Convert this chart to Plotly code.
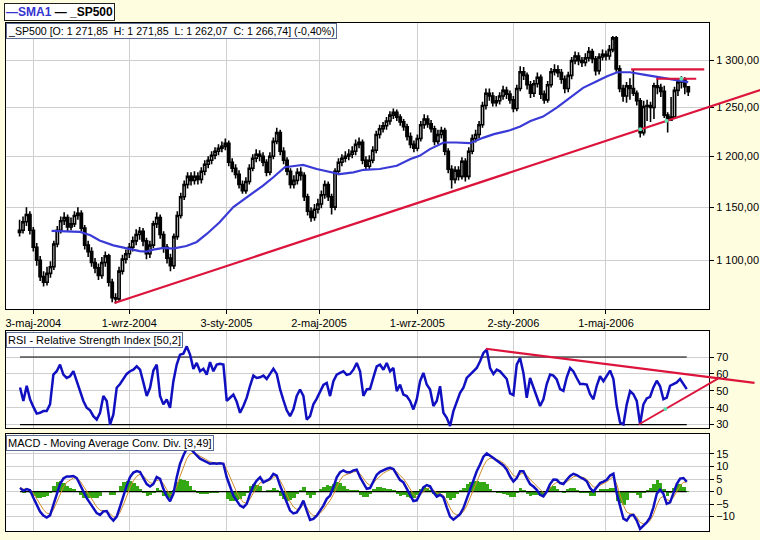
import math
import plotly.graph_objects as go

# ---------------- data ----------------
# price candles: one candle every 3 trading days, day 0 = 3-maj-2004
first_day = -12
day_step = 3
first_open = 1126.0
closes = [1128, 1136, 1143, 1128, 1112, 1100, 1085, 1080, 1088, 1094,
          1115, 1128, 1137, 1140, 1131, 1134, 1142, 1144, 1130, 1114,
          1108, 1098, 1093, 1086, 1098, 1104, 1080, 1066, 1065, 1090,
          1101, 1106, 1112, 1118, 1124, 1127, 1118, 1106, 1114, 1134,
          1140, 1124, 1112, 1102, 1095, 1122, 1142, 1160, 1172, 1180,
          1176, 1180, 1177, 1185, 1192, 1196, 1201, 1205, 1208, 1210,
          1213, 1194, 1188, 1182, 1172, 1166, 1175, 1188, 1198, 1202,
          1200, 1194, 1184, 1200, 1215, 1224, 1205, 1196, 1185, 1172,
          1176, 1184, 1181, 1160, 1146, 1140, 1148, 1153, 1162, 1172,
          1160, 1150, 1185, 1194, 1198, 1200, 1202, 1205, 1212, 1214,
          1196, 1190, 1196, 1206, 1222, 1228, 1231, 1236, 1242, 1245,
          1240, 1235, 1230, 1220, 1212, 1208, 1218, 1232, 1238, 1233,
          1228, 1215, 1222, 1226, 1205, 1187, 1177, 1186, 1180, 1195,
          1180, 1205, 1218, 1222, 1232, 1252, 1265, 1262, 1255, 1257,
          1262, 1268, 1264, 1258, 1249, 1270, 1288, 1284, 1274, 1265,
          1275, 1282, 1264, 1258, 1274, 1288, 1290, 1287, 1280, 1270,
          1284, 1300, 1305, 1300, 1298, 1303, 1310, 1302, 1289, 1304,
          1307, 1305, 1312, 1325, 1291, 1270, 1262, 1273, 1270, 1265,
          1257, 1224, 1251, 1252, 1250, 1273, 1271, 1267, 1242, 1237,
          1240, 1268, 1277, 1280, 1271.85, 1266.74]
highs = [1138, 1141, 1150, 1146, 1131, 1116, 1104, 1090, 1094, 1099,
         1118, 1132, 1141, 1145, 1143, 1140, 1146, 1150, 1147, 1133,
         1118, 1112, 1102, 1097, 1103, 1108, 1106, 1083, 1070, 1094,
         1105, 1110, 1116, 1122, 1129, 1131, 1130, 1121, 1118, 1137,
         1145, 1143, 1127, 1115, 1106, 1125, 1146, 1164, 1176, 1184,
         1184, 1185, 1184, 1189, 1196, 1200, 1205, 1209, 1212, 1215,
         1218, 1216, 1198, 1192, 1186, 1176, 1179, 1192, 1202, 1207,
         1206, 1204, 1197, 1204, 1219, 1229, 1227, 1209, 1199, 1188,
         1181, 1188, 1189, 1184, 1163, 1150, 1153, 1158, 1166, 1176,
         1175, 1163, 1188, 1198, 1202, 1205, 1207, 1210, 1217, 1219,
         1217, 1200, 1201, 1210, 1226, 1232, 1235, 1240, 1246, 1249,
         1248, 1243, 1238, 1233, 1224, 1216, 1222, 1236, 1243, 1242,
         1237, 1231, 1227, 1230, 1229, 1208, 1191, 1190, 1190, 1199,
         1198, 1209, 1222, 1227, 1236, 1256, 1270, 1270, 1266, 1262,
         1266, 1273, 1272, 1268, 1262, 1274, 1294, 1293, 1287, 1278,
         1279, 1287, 1285, 1268, 1278, 1292, 1296, 1295, 1291, 1284,
         1288, 1304, 1310, 1309, 1304, 1308, 1315, 1313, 1305, 1308,
         1312, 1311, 1317, 1327, 1327, 1295, 1274, 1277, 1281, 1291,
         1268, 1260, 1257, 1258, 1256, 1276, 1281, 1275, 1273, 1245,
         1261, 1272, 1280, 1283, 1282, 1271.85]
lows = [1122, 1125, 1132, 1124, 1108, 1095, 1081, 1076, 1077, 1084,
        1091, 1112, 1125, 1133, 1127, 1128, 1131, 1138, 1127, 1110,
        1103, 1094, 1088, 1082, 1083, 1094, 1076, 1062, 1061, 1063,
        1087, 1097, 1102, 1108, 1114, 1119, 1113, 1101, 1102, 1111,
        1130, 1120, 1107, 1097, 1090, 1092, 1119, 1139, 1157, 1168,
        1171, 1172, 1172, 1173, 1181, 1188, 1192, 1197, 1201, 1204,
        1206, 1190, 1184, 1178, 1168, 1163, 1163, 1172, 1185, 1194,
        1195, 1190, 1180, 1181, 1197, 1212, 1201, 1192, 1181, 1168,
        1168, 1172, 1176, 1156, 1142, 1136, 1137, 1144, 1149, 1158,
        1156, 1143, 1147, 1181, 1190, 1194, 1196, 1198, 1201, 1208,
        1192, 1186, 1187, 1193, 1203, 1218, 1224, 1227, 1232, 1238,
        1236, 1231, 1226, 1216, 1208, 1204, 1205, 1215, 1228, 1229,
        1224, 1211, 1212, 1218, 1201, 1183, 1168, 1173, 1176, 1177,
        1175, 1177, 1202, 1214, 1218, 1229, 1248, 1257, 1251, 1251,
        1253, 1258, 1259, 1254, 1245, 1246, 1267, 1279, 1269, 1260,
        1261, 1271, 1259, 1254, 1255, 1271, 1284, 1282, 1275, 1265,
        1266, 1280, 1296, 1295, 1293, 1294, 1299, 1297, 1284, 1285,
        1300, 1300, 1301, 1309, 1288, 1266, 1256, 1255, 1258, 1262,
        1252, 1219, 1221, 1236, 1235, 1238, 1264, 1261, 1239, 1224,
        1236, 1238, 1262, 1270, 1264, 1262.07]

# SMA1 readings (trading day, value)
sma_days = [16, 41, 50, 58, 70, 82, 93, 99, 105, 114, 122, 134, 143, 152, 163,
            175, 181, 190, 201, 210, 220, 230, 236, 248, 260, 268, 280, 289,
            303, 318, 330, 338, 347, 359, 370, 382, 394, 403, 417, 426, 435,
            446, 458, 470, 481, 493, 502, 511, 522, 534, 545, 560, 573]
sma_values = [1127.4, 1126.4, 1123.2, 1118.4, 1113.8, 1110.7, 1108.5, 1108.0,
              1109.8, 1111.4, 1110.7, 1113.2, 1117.0, 1124.7, 1135.6, 1150.0,
              1154.8, 1161.2, 1170.9, 1179.1, 1189.0, 1190.5, 1191.3, 1187.3,
              1184.0, 1182.3, 1184.0, 1186.5, 1187.3, 1190.5, 1197.2, 1200.4,
              1207.2, 1213.9, 1213.9, 1213.2, 1218.9, 1222.4, 1226.4, 1230.2,
              1235.9, 1240.5, 1249.8, 1260.2, 1270.7, 1277.8, 1283.1, 1287.4,
              1287.4, 1284.9, 1282.5, 1279.6, 1276.8]

# indicator samples, evenly spaced between these trading days
ind_first_day = -11.6
ind_last_day = 571.7
rsi_values = [52, 44, 53, 45, 40.5, 36.5, 37, 38, 38, 42,
              59.6, 61.6, 65.5, 59.6, 57.6, 58.6, 61.6, 56, 50, 44,
              40, 38.5, 35, 33, 37, 47, 44, 30, 36, 51.8,
              54, 57, 60, 61.6, 62.5, 64.5, 62.5, 55, 46.9, 51.8,
              62, 65.5, 46.9, 42, 44.9, 40, 55.7, 65.5, 71.4, 72,
              76.3, 71.4, 63, 66.5, 61.6, 63, 59.6, 67, 61.6, 65.5,
              66, 65.5, 44, 45.9, 47.8, 43.5, 37, 41, 46, 53,
              59, 57.6, 58, 59, 57, 60, 63, 60, 51, 44.5,
              38.5, 35, 39, 47, 50.8, 47, 33, 35, 42, 45.4,
              49, 53.5, 54.7, 46.9, 55.7, 59.6, 60.6, 61.6, 59.5, 60,
              62.5, 66.5, 61.6, 47, 50.8, 51.2, 58, 64.5, 65.5, 62.5,
              66.5, 61.6, 63.5, 49.8, 53.7, 47.8, 46.9, 44, 39, 44.9,
              55.7, 60.6, 53.7, 50.8, 41, 44, 52.7, 37, 34, 29.2,
              38, 43, 48.8, 51.8, 57.6, 59.6, 61.6, 63.5, 67.5, 72.4,
              74.3, 63.5, 60, 62.5, 61.5, 59, 57, 48.5, 47.5, 65.5,
              69.4, 60.6, 45.9, 57.6, 51.8, 45.9, 41, 45, 54, 59.6,
              59, 56.7, 51, 50, 58, 63.5, 61.5, 57.6, 54, 54,
              53.7, 48, 45, 53, 58.6, 55.7, 58.6, 62, 57, 41,
              31.2, 30.2, 42, 49.8, 48, 44, 30.2, 42, 45.5, 46.5,
              52, 56, 52.7, 45, 46, 53, 54, 55, 57, 54,
              51]
macd_values = [1.5, 0.3, 1.0, 0.5, -2.5, -5.5, -8, -9.6, -10.4, -9.5,
               -5.2, -0.6, 3, 5.2, 6, 6, 6.2, 5.4, 2.8, -0.3,
               -2.6, -4.6, -6.6, -8.6, -9.3, -7.9, -7.8, -10.2, -11.6, -10,
               -6, -1.6, 2.4, 5.8, 7.6, 8.2, 7.8, 5.4, 3, 2,
               3, 5.8, 5.1, 1.1, -1.9, -3.9, -0.9, 5.7, 11.1, 14.4,
               17.1, 17.3, 15.7, 14.4, 13.1, 12.4, 11.7, 11.1, 11.3, 11.1,
               11.3, 11.1, 5.7, 1.7, -1.6, -3.6, -5.6, -6.3, -4.9, -0.9,
               2.4, 4.4, 5.7, 3.7, 4.4, 5.1, 7.1, 6.4, 2.4, -0.9,
               -4.9, -7.6, -8.7, -8.3, -6.3, -3.6, -7.6, -11.3, -10.9, -9.6,
               -7.6, -5.6, -2.9, -1.6, 1.7, 5.7, 7.7, 8.4, 7.7, 7.7,
               8.4, 8.7, 5.7, 3.1, 1.1, 1.4, 4.4, 6.7, 7.9, 8.6,
               9.1, 9.5, 9, 6.8, 4.6, 3.7, 1, -1.6, -3.8, -3.5,
               -0.6, 1.7, 2.6, 2.1, -0.3, -2, -1.3, -2.3, -6.3, -10,
               -11.2, -10.2, -9, -6.6, -2.9, 1.1, 5.1, 8.1, 10.8, 13.9,
               15.2, 14.4, 13.4, 12.4, 11.4, 10.4, 8.7, 6, 4, 5.4,
               8.1, 8.1, 5.4, 3, 2, 0.7, -1.3, -1.9, 0, 3,
               4.8, 4.7, 3.4, 3, 4.7, 6.2, 7.1, 6.6, 5.7, 5.1,
               4.1, 1.4, 0, 1.8, 3.4, 4, 4.7, 6.4, 7.1, -0.8,
               -5.9, -10.8, -11.6, -9.6, -9.3, -11.6, -14.9, -13.6, -12.3, -10.3,
               -6.3, -0.9, 0.7, -0.9, -4.9, -4.3, -0.9, 3, 5.2, 5.4,
               3.9]
signal_values = [1.5, 1.0, 1.0, 0.8, -0.7, -2.9, -5.2, -7.2, -8.6, -9.0,
                 -7.3, -4.3, -1.0, 1.8, 3.7, 4.7, 5.4, 5.4, 4.2, 2.2,
                 0.0, -2.1, -4.1, -6.1, -7.5, -7.7, -7.7, -8.8, -10.1, -10.1,
                 -8.3, -5.3, -1.8, 1.6, 4.3, 6.1, 6.9, 6.2, 4.8, 3.5,
                 3.3, 4.4, 4.7, 3.1, 0.8, -1.3, -1.1, 2.0, 6.1, 9.8,
                 13.1, 15.0, 15.3, 14.9, 14.1, 13.3, 12.6, 11.9, 11.6, 11.4,
                 11.4, 11.3, 8.8, 5.6, 2.4, -0.3, -2.7, -4.3, -4.6, -2.9,
                 -0.5, 1.7, 3.5, 3.6, 4.0, 4.5, 5.7, 6.0, 4.4, 2.0,
                 -1.1, -4.0, -6.1, -7.1, -6.7, -5.3, -6.3, -8.5, -9.6, -9.6,
                 -8.7, -7.3, -5.3, -3.6, -1.2, 1.9, 4.5, 6.3, 6.9, 7.3,
                 7.8, 8.2, 7.1, 5.3, 3.4, 2.5, 3.4, 4.9, 6.2, 7.3,
                 8.1, 8.7, 8.8, 7.9, 6.4, 5.2, 3.3, 1.1, -1.1, -2.2,
                 -1.5, -0.1, 1.1, 1.6, 0.7, -0.5, -0.9, -1.5, -3.7, -6.5,
                 -8.6, -9.3, -9.2, -8.0, -5.7, -2.6, 0.9, 4.1, 7.1, 10.2,
                 12.4, 13.3, 13.3, 12.9, 12.2, 11.4, 10.2, 8.3, 6.4, 5.9,
                 6.9, 7.4, 6.5, 4.9, 3.6, 2.3, 0.7, -0.5, -0.3, 1.2,
                 2.8, 3.7, 3.6, 3.3, 3.9, 4.9, 5.9, 6.2, 6.0, 5.6,
                 4.9, 3.3, 1.8, 1.8, 2.5, 3.2, 3.9, 5.0, 5.9, 2.9,
                 -1.1, -5.5, -8.2, -8.8, -9.0, -10.2, -12.3, -12.9, -12.6, -11.6,
                 -9.2, -5.5, -2.7, -1.9, -3.2, -3.7, -2.4, 0.0, 2.3, 3.7,
                 3.8]
hist_values = [0, -0.7, 0, -0.3, -1.8, -2.6, -2.8, -2.4, -1.8, -0.5,
               2.1, 3.7, 4.0, 3.4, 2.3, 1.3, 0.8, 0, -1.4, -2.5,
               -2.6, -2.5, -2.5, -2.5, -1.8, -0.2, -0.1, -1.4, -1.5, 0.1,
               2.3, 3.7, 4.2, 4.2, 3.3, 2.1, 0.9, -0.8, -1.8, -1.5,
               -0.3, 1.4, 0.4, -2.0, -2.7, -2.6, 0.2, 3.7, 5.0, 4.6,
               4.0, 2.3, 0.4, -0.5, -1.0, -0.9, -0.9, -0.8, -0.3, -0.3,
               -0.1, -0.2, -3.1, -3.9, -4.0, -3.3, -2.9, -2.0, -0.3, 2.0,
               2.9, 2.7, 2.2, 0.1, 0.4, 0.6, 1.4, 0.4, -2.0, -2.9,
               -3.8, -3.6, -2.6, -1.2, 0.4, 1.7, -1.3, -2.8, -1.3, 0,
               1.1, 1.7, 2.4, 2.0, 2.9, 3.8, 3.2, 2.1, 0.8, 0.4,
               0.6, 0.5, -1.4, -2.2, -2.3, -1.1, 1.0, 1.8, 1.7, 1.3,
               1.0, 0.8, 0.2, -1.1, -1.8, -1.5, -2.3, -2.7, -2.7, -1.3,
               0.9, 1.8, 1.5, 0.5, -1.0, -1.5, -0.4, -0.8, -2.6, -3.5,
               -2.6, -0.9, 0.2, 1.4, 2.8, 3.7, 4.2, 4.0, 3.7, 3.7,
               2.8, 1.1, 0.1, -0.5, -0.8, -1.0, -1.5, -2.3, -2.4, -0.5,
               1.2, 0.7, -1.1, -1.9, -1.6, -1.6, -2.0, -1.4, 0.3, 1.8,
               2.0, 1.0, -0.2, -0.3, 0.8, 1.3, 1.2, 0.4, -0.3, -0.5,
               -0.8, -1.9, -1.8, 0, 0.9, 0.8, 0.8, 1.4, 1.2, -3.7,
               -4.8, -5.3, -3.4, -0.8, -0.3, -1.4, -2.6, -0.7, 0.3, 1.3,
               2.9, 4.6, 3.4, 1.0, -1.7, -0.6, 1.5, 3.0, 2.9, 1.7,
               0.1]

# axis ticks
tick_days = [0, 84, 169, 250, 336, 420, 501]
tick_labels = ["3-maj-2004", "1-wrz-2004", "3-sty-2005", "2-maj-2005",
               "1-wrz-2005", "2-sty-2006", "1-maj-2006"]
price_ticks = [1100, 1150, 1200, 1250, 1300]
price_tick_labels = ["1 100,00", "1 150,00", "1 200,00", "1 250,00", "1 300,00"]
rsi_ticks = [30, 40, 50, 60, 70]
macd_ticks = [-10, -5, 0, 5, 10, 15]

# drawn trend lines (trading day, value)
trend_days = [71, 636]
trend_values = [1061.3, 1268.5]
res1_days = [523, 587]
res1_value = 1290.5
res2_days = [545, 580]
res2_value = 1280.4
touch_days = [531, 554, 567]
touch_values = [1227.5, 1236.3, 1280.5]
rsi_down_days = [396, 631]
rsi_down_values = [74.9, 54.7]
rsi_up_days = [530, 599]
rsi_up_values = [30.2, 57.2]
rsi_touch_days = [553]
rsi_touch_values = [39.3]
rsi_levels = [30, 70]

# ---------------- layout geometry ----------------
W, H = 760, 540
ORIGIN_PX = 33.3
PX_PER_DAY = 1.143
PLOT_L, PLOT_R, EXT_R = 5.5, 709.0, 760.0
MAIN_T, MAIN_B = 23.0, 311.0
RSI_T, RSI_B = 333.0, 430.0
MACD_T, MACD_B = 436.7, 534.0
price_range = [1055.8, 1341.7]
rsi_range = [28.24, 85.3]
macd_range = [-15.75, 22.86]

def fx(px):
    return px / W

def fy(py):
    return 1 - py / H

def day_at(px):
    return (px - ORIGIN_PX) / PX_PER_DAY

x_range = [day_at(PLOT_L), day_at(PLOT_R)]
x_range_ext = [day_at(PLOT_L), day_at(EXT_R)]
log_range = [math.log10(price_range[0]), math.log10(price_range[1])]

days = [first_day + day_step * i for i in range(len(closes))]
opens = [first_open] + closes[:-1]
n_ind = len(rsi_values)
ind_days = [ind_first_day + (ind_last_day - ind_first_day) * i / (n_ind - 1) for i in range(n_ind)]

BG = "#FFFDE0"
RED = "#DC143C"
TOUCH = "#5FE3B5"
FONT = "Liberation Sans, Arial, sans-serif"
GRID = "#CFCFCF"

fig = go.Figure()

fig.add_trace(go.Candlestick(
    x=days, open=opens, high=highs, low=lows, close=closes,
    xaxis="x", yaxis="y", whiskerwidth=0,
    increasing=dict(line=dict(color="black", width=1.6), fillcolor="white"),
    decreasing=dict(line=dict(color="black", width=1.6), fillcolor="black"),
    hoverinfo="skip"))
fig.add_trace(go.Scatter(x=sma_days, y=sma_values, mode="lines", xaxis="x", yaxis="y",
                         line=dict(color="#3A3AD6", width=2.2)))
fig.add_trace(go.Scatter(x=res1_days, y=[res1_value, res1_value], mode="lines",
                         xaxis="x", yaxis="y", line=dict(color=RED, width=2.2)))
fig.add_trace(go.Scatter(x=res2_days, y=[res2_value, res2_value], mode="lines",
                         xaxis="x", yaxis="y", line=dict(color=RED, width=2.2)))
fig.add_trace(go.Scatter(x=trend_days, y=trend_values, mode="lines",
                         xaxis="x4", yaxis="y4", line=dict(color=RED, width=2.2)))
fig.add_trace(go.Scatter(x=touch_days, y=touch_values, mode="markers",
                         xaxis="x4", yaxis="y4", marker=dict(color=TOUCH, size=4)))

# RSI
for lvl in rsi_levels:
    fig.add_trace(go.Scatter(x=[ind_days[0], ind_days[-1]], y=[lvl, lvl], mode="lines",
                             xaxis="x2", yaxis="y2", line=dict(color="black", width=1.2)))
fig.add_trace(go.Scatter(x=ind_days, y=rsi_values, mode="lines", xaxis="x2", yaxis="y2",
                         line=dict(color="#1010C0", width=2.5)))
fig.add_trace(go.Scatter(x=rsi_down_days, y=rsi_down_values, mode="lines",
                         xaxis="x5", yaxis="y5", line=dict(color=RED, width=2.2)))
fig.add_trace(go.Scatter(x=rsi_up_days, y=rsi_up_values, mode="lines",
                         xaxis="x5", yaxis="y5", line=dict(color=RED, width=1.8)))
fig.add_trace(go.Scatter(x=rsi_touch_days, y=rsi_touch_values, mode="markers",
                         xaxis="x5", yaxis="y5", marker=dict(color=TOUCH, size=4)))

# MACD
fig.add_trace(go.Bar(x=ind_days, y=hist_values, xaxis="x3", yaxis="y3",
                     width=ind_days[1] - ind_days[0],
                     marker=dict(color="#33A814", line=dict(width=0))))
fig.add_trace(go.Scatter(x=[ind_days[0], ind_days[-1]], y=[0, 0], mode="lines",
                         xaxis="x3", yaxis="y3", line=dict(color="black", width=1.2)))
fig.add_trace(go.Scatter(x=ind_days, y=signal_values, mode="lines", xaxis="x3", yaxis="y3",
                         line=dict(color="#D08C28", width=1)))
fig.add_trace(go.Scatter(x=ind_days, y=macd_values, mode="lines", xaxis="x3", yaxis="y3",
                         line=dict(color="#1010C0", width=2.5)))

axis_common = dict(showline=True, mirror=True, linecolor="black", linewidth=1,
                   showgrid=True, gridcolor=GRID, gridwidth=1, zeroline=False,
                   tickfont=dict(family=FONT, size=11, color="black"))
xdom = [fx(PLOT_L), fx(PLOT_R)]
xdom_ext = [fx(PLOT_L), 1.0]

fig.update_layout(
    width=W, height=H, autosize=False,
    margin=dict(l=0, r=0, t=0, b=0, pad=0),
    paper_bgcolor=BG, plot_bgcolor="rgba(0,0,0,0)",
    showlegend=False, bargap=0, boxgap=0.05,
    font=dict(family=FONT, size=11, color="black"),
    xaxis=dict(domain=xdom, range=x_range, anchor="y", tickmode="array",
               tickvals=tick_days, ticktext=tick_labels, ticks="outside",
               ticklen=4, tickcolor="black", rangeslider=dict(visible=False),
               **axis_common),
    yaxis=dict(domain=[fy(MAIN_B), fy(MAIN_T)], type="log", range=log_range,
               anchor="x", side="right", tickmode="array", tickvals=price_ticks,
               ticktext=price_tick_labels, ticks="outside", ticklen=4,
               tickcolor="black", **axis_common),
    xaxis2=dict(domain=xdom, range=x_range, anchor="y2", tickmode="array",
                tickvals=tick_days, showticklabels=False, ticks="", **axis_common),
    yaxis2=dict(domain=[fy(RSI_B), fy(RSI_T)], range=rsi_range, anchor="x2",
                side="right", tickmode="array", tickvals=rsi_ticks, ticks="outside",
                ticklen=4, tickcolor="black", **axis_common),
    xaxis3=dict(domain=xdom, range=x_range, anchor="y3", tickmode="array",
                tickvals=tick_days, showticklabels=False, ticks="", **axis_common),
    yaxis3=dict(domain=[fy(MACD_B), fy(MACD_T)], range=macd_range, anchor="x3",
                side="right", tickmode="array", tickvals=macd_ticks, ticks="outside",
                ticklen=4, tickcolor="black", **axis_common),
    xaxis4=dict(domain=xdom_ext, range=x_range_ext, anchor="y4", visible=False),
    yaxis4=dict(domain=[fy(MAIN_B), fy(MAIN_T)], type="log", range=log_range,
                anchor="x4", visible=False),
    xaxis5=dict(domain=xdom_ext, range=x_range_ext, anchor="y5", visible=False),
    yaxis5=dict(domain=[fy(RSI_B), fy(RSI_T)], range=rsi_range, anchor="x5",
                visible=False),
)

# white panel backgrounds
for xr, yr in (("x", "y"), ("x2", "y2"), ("x3", "y3")):
    fig.add_shape(type="rect", xref=xr + " domain", yref=yr + " domain",
                  x0=0, x1=1, y0=0, y1=1, fillcolor="white",
                  line=dict(width=0), layer="below")

nb = "\u00a0"
box = dict(xref="paper", yref="paper", xanchor="left", yanchor="top",
           showarrow=False, bgcolor="white", borderwidth=1, borderpad=1,
           align="left")
fig.add_annotation(
    x=fx(4), y=fy(3.5), bordercolor="#202020",
    text=("<b><span style='color:#3434D0'>\u2014SMA1</span>" + nb +
          "\u2014 _SP500</b>"),
    font=dict(family=FONT, size=12, color="black"), **box)
fig.add_annotation(
    x=fx(6), y=fy(23.5), bordercolor="#5A6C90",
    text=("_SP500 [O: 1 271,85" + nb * 2 + "H: 1 271,85" + nb * 2 +
          "L: 1 262,07" + nb * 2 + "C: 1 266,74] (-0,40%)"),
    font=dict(family=FONT, size=10.6, color="black"), **box)
fig.add_annotation(
    x=fx(6), y=fy(333.5), bordercolor="#5A6C90",
    text="RSI - Relative Strength Index [50,2]",
    font=dict(family=FONT, size=11, color="black"), **box)
fig.add_annotation(
    x=fx(6), y=fy(437.2), bordercolor="#5A6C90",
    text="MACD - Moving Average Conv. Div. [3,49]",
    font=dict(family=FONT, size=11, color="black"), **box)

fig.write_html("out.html", include_plotlyjs=True, full_html=True,
               config=dict(displayModeBar=False))
